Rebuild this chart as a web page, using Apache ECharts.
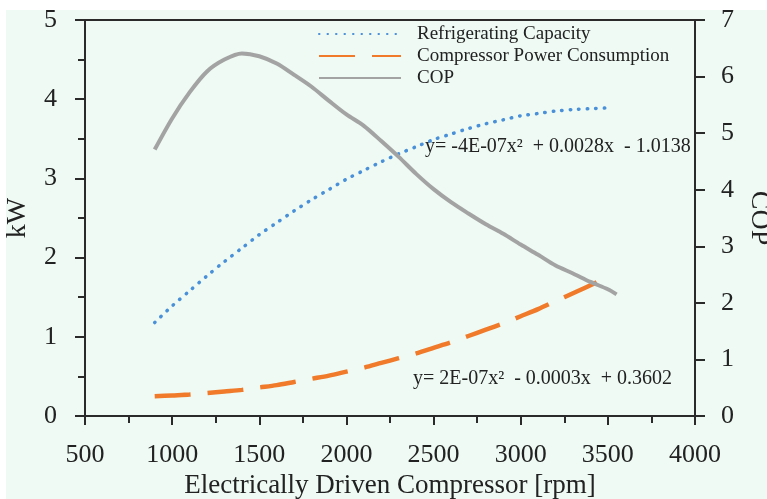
<!DOCTYPE html>
<html>
<head>
<meta charset="utf-8">
<script src="https://cdn.jsdelivr.net/npm/echarts@6/dist/echarts.min.js"></script>
<style>
html,body{margin:0;padding:0;background:#ffffff;}
#chart{width:767px;height:499px;}
</style>
</head>
<body>
<div id="chart"></div>
<script>
// ---- data ----
const rpm = [900,1000,1100,1200,1300,1400,1500,1600,1700,1800,1900,2000,2100,2200,2300,2400,2500,2600,2700,2800,2900,3000,3100,3200,3300,3400,3500];
const refrigeratingCapacity = [1.18,1.39,1.58,1.77,1.95,2.12,2.29,2.44,2.59,2.73,2.86,2.99,3.10,3.21,3.31,3.40,3.49,3.56,3.63,3.69,3.74,3.79,3.82,3.85,3.87,3.88,3.89];
const compressorPower = [0.25,0.26,0.27,0.29,0.31,0.33,0.36,0.39,0.43,0.47,0.51,0.56,0.61,0.67,0.73,0.79,0.86,0.93,1.01,1.09,1.17,1.26,1.35,1.45,1.55,1.65,1.76];
const rpmCOP = [900,1000,1100,1200,1300,1400,1500,1600,1700,1800,1900,2000,2100,2200,2300,2400,2500,2600,2700,2800,2900,3000,3100,3200,3300,3400,3500,3550];
const cop = [4.71,5.26,5.72,6.09,6.30,6.41,6.36,6.23,6.03,5.82,5.57,5.33,5.13,4.86,4.58,4.28,4.01,3.78,3.58,3.39,3.22,3.03,2.85,2.66,2.52,2.37,2.24,2.15];
const seriesNames = ['Refrigerating Capacity','Compressor Power Consumption','COP'];
const eqCapacity = 'y= -4E-07x\u00B2  + 0.0028x  - 1.0138';
const eqPower = 'y= 2E-07x\u00B2  - 0.0003x  + 0.3602';
const xTitle = 'Electrically Driven Compressor [rpm]';
const yLeftTitle = 'kW';
const yRightTitle = 'COP';

const pairs = (xs, ys) => xs.map((x, i) => [x, ys[i]]);
const FONT = "'Liberation Serif', 'Times New Roman', serif";
const AX = '#2a2a2a';
const plain = v => String(v);

const chart = echarts.init(document.getElementById('chart'));
chart.setOption({
  animation: false,
  textStyle: { fontFamily: FONT },
  grid: { left: 85, right: 72, top: 20, bottom: 83, containLabel: false, outerBoundsMode: 'none' },
  graphic: [
    { type: 'rect', z: -10, silent: true, shape: { x: 6, y: 10, width: 761, height: 489 }, style: { fill: '#eefaf3' } },
    { type: 'text', left: 425, top: 137, style: { text: eqCapacity, font: "20px 'Liberation Serif', serif", fill: '#222' } },
    { type: 'text', left: 413, top: 369, style: { text: eqPower, font: "20px 'Liberation Serif', serif", fill: '#222' } }
  ],
  legend: {
    orient: 'vertical', left: 318, top: 24, padding: 0,
    itemWidth: 82, itemHeight: 10, itemGap: 2,
    itemStyle: { opacity: 0 },
    textStyle: { fontFamily: FONT, fontSize: 19, color: '#222', lineHeight: 20, padding: [0, 0, 0, 11] },
    data: seriesNames
  },
  xAxis: [{
    type: 'value', min: 500, max: 4000, interval: 500,
    name: xTitle, nameLocation: 'middle', nameGap: 54,
    nameTextStyle: { fontFamily: FONT, fontSize: 27, color: '#222' },
    axisLine: { show: true, lineStyle: { color: AX, width: 2 } },
    axisTick: { show: true, inside: false, length: 9, lineStyle: { color: AX, width: 2 } },
    minorTick: { show: true, splitNumber: 2, length: 7, lineStyle: { color: AX, width: 2 } },
    axisLabel: { fontFamily: FONT, fontSize: 26, color: '#222', margin: 26, formatter: plain },
    splitLine: { show: false }
  }, {
    type: 'value', position: 'top', min: 500, max: 4000,
    axisLine: { show: true, onZero: false, lineStyle: { color: AX, width: 2 } },
    axisTick: { show: false }, axisLabel: { show: false }, splitLine: { show: false }
  }],
  yAxis: [{
    type: 'value', min: 0, max: 5, interval: 1, position: 'left',
    name: yLeftTitle, nameLocation: 'middle', nameGap: 53, nameRotate: 90,
    nameTextStyle: { fontFamily: FONT, fontSize: 28, color: '#222' },
    axisLine: { show: true, lineStyle: { color: AX, width: 2 } },
    axisTick: { show: true, length: 10, lineStyle: { color: AX, width: 2 } },
    minorTick: { show: true, splitNumber: 2, length: 7, lineStyle: { color: AX, width: 2 } },
    axisLabel: { fontFamily: FONT, fontSize: 26, color: '#222', margin: 28, formatter: plain },
    splitLine: { show: false }
  }, {
    type: 'value', min: 0, max: 7, interval: 1, position: 'right',
    name: yRightTitle, nameLocation: 'middle', nameGap: 48, nameRotate: -90,
    nameTextStyle: { fontFamily: FONT, fontSize: 28, color: '#222' },
    axisLine: { show: true, lineStyle: { color: AX, width: 2 } },
    axisTick: { show: true, length: 10, lineStyle: { color: AX, width: 2 } },
    axisLabel: { fontFamily: FONT, fontSize: 26, color: '#222', margin: 26, formatter: plain },
    splitLine: { show: false }
  }],
  series: [{
    name: seriesNames[0], type: 'line', yAxisIndex: 0, smooth: 0.3,
    showSymbol: false, symbol: 'none',
    data: pairs(rpm, refrigeratingCapacity),
    itemStyle: { color: '#4a90d9' },
    lineStyle: { color: '#4a90d9', width: 3.5, type: [0.5, 8], cap: 'round' }
  }, {
    name: seriesNames[1], type: 'line', yAxisIndex: 0, smooth: 0.3,
    showSymbol: false, symbol: 'none',
    data: pairs(rpm, compressorPower),
    itemStyle: { color: '#f07a2a' },
    lineStyle: { color: '#f07a2a', width: 4.5, type: [36, 17] }
  }, {
    name: seriesNames[2], type: 'line', yAxisIndex: 1, smooth: 0.3,
    showSymbol: false, symbol: 'none',
    data: pairs(rpmCOP, cop),
    itemStyle: { color: '#a3a3a3' },
    lineStyle: { color: '#a3a3a3', width: 4 }
  }]
});
</script>
</body>
</html>
